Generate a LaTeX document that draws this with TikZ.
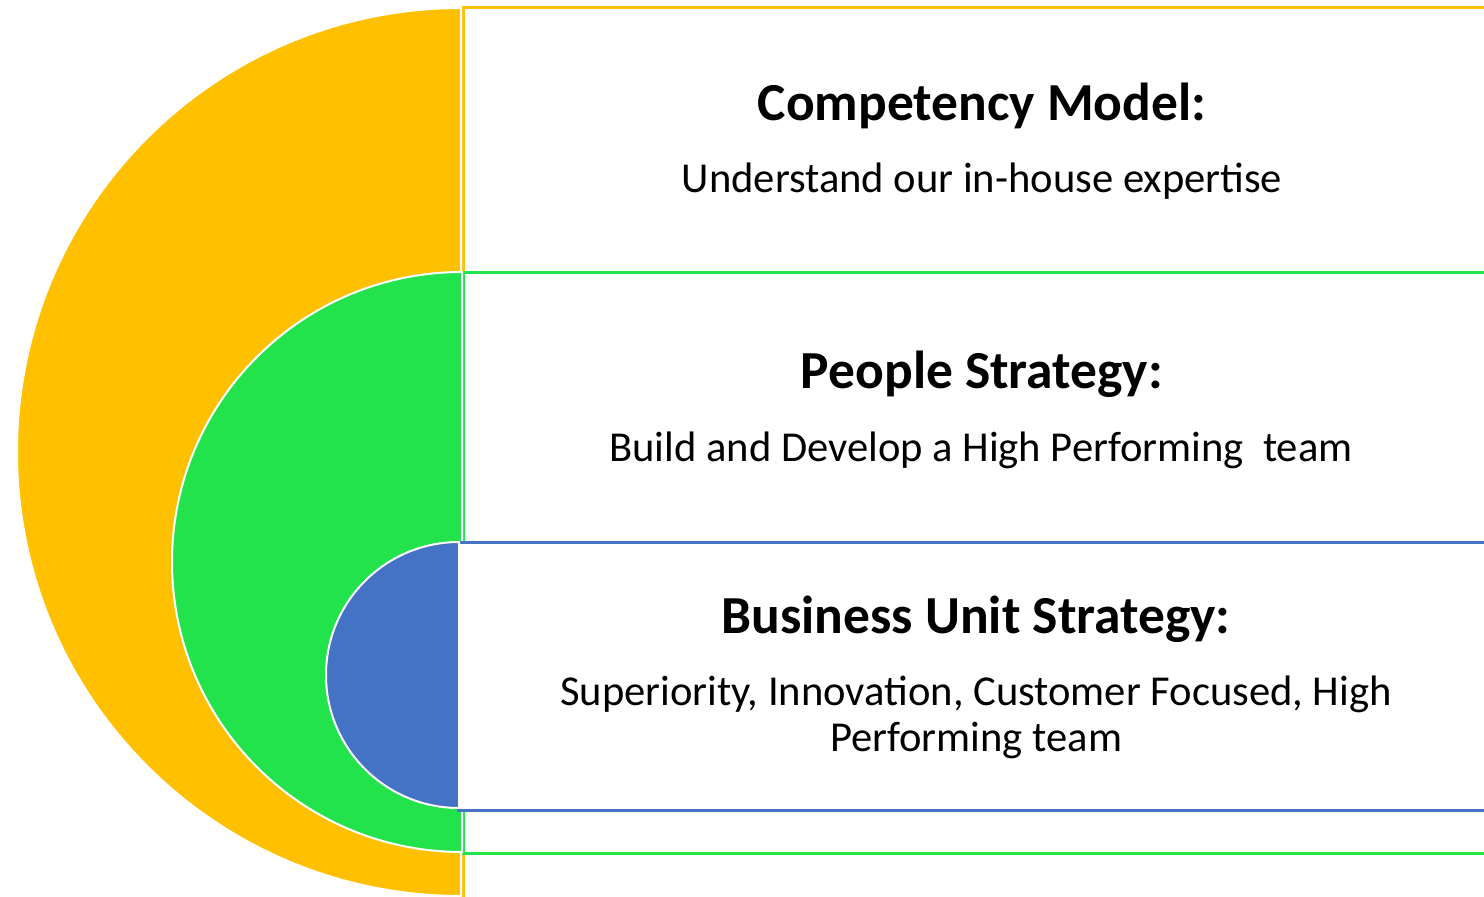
\documentclass[tikz,border=0pt]{standalone}
\usepackage{fontspec}
\setmainfont{Carlito}
\definecolor{cyel}{HTML}{FFC000}
\definecolor{cgrn}{HTML}{22E34C}
\definecolor{cblu}{HTML}{4472C4}
\begin{document}
\begin{tikzpicture}[x=1pt,y=-1pt,
  band/.style={fill=white,line width=3pt},
  half/.style={draw=white,line width=2pt},
  ttl/.style={font=\fontsize{53.5}{60}\selectfont\bfseries,anchor=center,inner sep=0pt},
  bod/.style={font=\fontsize{42.6}{46}\selectfont,anchor=center,inner sep=0pt,align=center}]
\useasboundingbox (0,0) rectangle (1484,897);
\clip (0,0) rectangle (1484,897);
\fill[white] (0,0) rectangle (1484,897);
% yellow
\draw[band,draw=cyel] (463,7) rectangle (1520,930);
\path[half,fill=cyel] (461,452) ++(0,444) arc[start angle=90,end angle=270,radius=444] -- cycle;
% green
\draw[band,draw=cgrn] (463,272) rectangle (1520,853);
\path[half,fill=cgrn] (462,562) ++(0,290) arc[start angle=90,end angle=270,radius=290] -- cycle;
% blue
\draw[band,draw=cblu] (458,542) rectangle (1520,810);
\path[half,fill=cblu] (459,675) ++(0,133) arc[start angle=90,end angle=270,radius=133] -- cycle;
% texts
\node[ttl] (t1) at (982,106) {Competency Model:};
\node[bod] (b1) at (982,181) {Understand our in-house expertise};
\node[ttl] (t2) at (982,374) {People Strategy:};
\node[bod] (b2) at (981,450) {Build and Develop a High Performing\ \ team};
\node[ttl] (t3) at (976,619) {Business Unit Strategy:};
\node[bod] (b3) at (976,717) {Superiority, Innovation, Customer Focused, High\\Performing team};
\end{tikzpicture}
\end{document}
